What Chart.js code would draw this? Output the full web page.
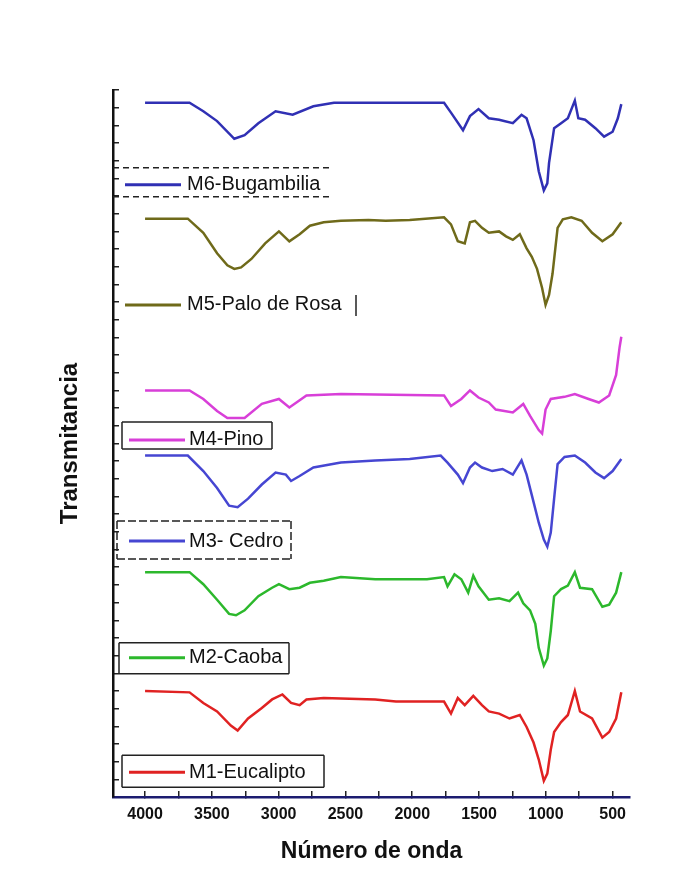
<!DOCTYPE html>
<html lang="es">
<head>
<meta charset="utf-8">
<title>Espectros FTIR - Transmitancia</title>
<script src="https://cdn.jsdelivr.net/npm/chart.js@4.4.1/dist/chart.umd.min.js"></script>
<style>
  html, body { margin: 0; padding: 0; background: #fff; }
  #wrap { width: 689px; height: 869px; }
</style>
</head>
<body>
<div id="wrap"><canvas id="ftirChart" width="689" height="869"></canvas></div>
<script>
// --- Datos (numero de onda en cm-1, transmitancia apilada) ---
const sampleNames = ["M6-Bugambilia", "M5-Palo de Rosa", "M4-Pino", "M3- Cedro", "M2-Caoba", "M1-Eucalipto"];
const lineColors = ["#3030b4", "#6f6a1a", "#d83fd8", "#4646d2", "#2cb82c", "#e02222"];

const wnM6 = [4000, 3667, 3564, 3461, 3332, 3255, 3152, 3023, 2895, 2740, 2586, 1762, 1710, 1620, 1568, 1504, 1427, 1350, 1247, 1182, 1144, 1092, 1053, 1015, 989, 976, 938, 886, 835, 783, 757, 706, 629, 564, 500, 461, 435];
const tM6 = [98.2, 98.2, 97.0, 95.6, 93.1, 93.6, 95.3, 97.0, 96.5, 97.7, 98.2, 98.2, 96.8, 94.3, 96.3, 97.3, 96.0, 95.8, 95.3, 96.5, 96.0, 92.9, 88.5, 85.8, 86.8, 89.7, 94.6, 95.3, 96.0, 98.5, 96.0, 95.8, 94.6, 93.4, 94.1, 96.0, 98.0];

const wnM5 = [4000, 3680, 3564, 3461, 3384, 3332, 3281, 3204, 3101, 2998, 2920, 2843, 2766, 2663, 2534, 2328, 2199, 2019, 1762, 1710, 1659, 1607, 1568, 1530, 1478, 1427, 1350, 1298, 1247, 1195, 1144, 1105, 1066, 1028, 1002, 976, 950, 912, 873, 809, 732, 654, 577, 500, 435];
const tM5 = [81.8, 81.8, 79.8, 76.9, 75.2, 74.7, 74.9, 76.1, 78.3, 80.0, 78.6, 79.6, 80.8, 81.3, 81.5, 81.6, 81.5, 81.6, 82.0, 81.0, 78.6, 78.3, 81.3, 81.5, 80.5, 79.8, 80.0, 79.3, 78.8, 79.6, 77.6, 76.4, 74.7, 72.0, 69.6, 71.0, 74.0, 80.5, 81.7, 82.0, 81.5, 79.8, 78.6, 79.6, 81.3];

const wnM4 = [4000, 3667, 3564, 3461, 3384, 3255, 3126, 2998, 2920, 2792, 2534, 1762, 1710, 1633, 1568, 1504, 1427, 1375, 1247, 1169, 1118, 1053, 1028, 1002, 963, 860, 783, 680, 603, 526, 474, 448, 435];
const tM4 = [57.5, 57.5, 56.3, 54.6, 53.6, 53.6, 55.6, 56.3, 55.1, 56.8, 57.0, 56.8, 55.3, 56.3, 57.5, 56.5, 55.8, 54.8, 54.4, 55.6, 53.9, 51.9, 51.4, 54.8, 56.3, 56.6, 57.0, 56.3, 55.8, 56.8, 59.7, 63.6, 65.1];

const wnM3 = [4000, 3680, 3564, 3461, 3371, 3307, 3229, 3126, 3023, 2946, 2907, 2843, 2740, 2534, 2277, 2019, 1787, 1736, 1659, 1620, 1568, 1530, 1478, 1401, 1324, 1247, 1182, 1144, 1105, 1053, 1015, 989, 963, 938, 912, 860, 783, 706, 629, 564, 500, 435];
const tM3 = [48.3, 48.3, 46.1, 43.7, 41.2, 41.0, 42.2, 44.2, 45.9, 45.6, 44.7, 45.4, 46.6, 47.3, 47.6, 47.8, 48.3, 47.3, 45.6, 44.4, 46.6, 47.3, 46.6, 46.1, 46.4, 45.6, 47.6, 45.6, 42.7, 38.8, 36.4, 35.4, 37.4, 42.2, 47.1, 48.1, 48.3, 47.3, 45.9, 45.1, 46.1, 47.8];

const wnM2 = [4000, 3667, 3564, 3461, 3371, 3319, 3255, 3152, 3049, 2998, 2920, 2843, 2766, 2663, 2534, 2277, 1890, 1762, 1736, 1684, 1633, 1581, 1543, 1504, 1427, 1350, 1272, 1208, 1169, 1118, 1079, 1053, 1015, 989, 963, 938, 886, 835, 783, 744, 654, 577, 526, 474, 435];
const tM2 = [31.8, 31.8, 30.1, 27.9, 25.9, 25.7, 26.4, 28.4, 29.6, 30.1, 29.4, 29.6, 30.3, 30.6, 31.1, 30.8, 30.8, 31.1, 29.8, 31.5, 30.8, 28.9, 31.3, 29.8, 27.9, 28.1, 27.7, 28.9, 27.4, 26.4, 24.5, 21.1, 18.6, 19.6, 23.5, 28.4, 29.4, 29.9, 31.8, 29.6, 29.4, 26.9, 27.2, 28.9, 31.8];

const wnM1 = [4000, 3667, 3564, 3461, 3358, 3307, 3229, 3126, 3049, 2972, 2907, 2843, 2792, 2663, 2277, 2122, 1762, 1710, 1659, 1607, 1543, 1478, 1427, 1350, 1272, 1195, 1144, 1092, 1053, 1015, 989, 963, 938, 886, 835, 783, 744, 654, 577, 526, 474, 435];
const tM1 = [15.0, 14.8, 13.3, 12.1, 10.1, 9.4, 11.1, 12.6, 13.8, 14.5, 13.3, 13.0, 13.8, 14.0, 13.8, 13.5, 13.5, 11.8, 14.0, 13.0, 14.3, 13.0, 12.1, 11.8, 11.1, 11.6, 9.9, 7.7, 5.3, 2.3, 3.3, 6.7, 9.2, 10.6, 11.6, 15.0, 12.1, 11.1, 8.4, 9.2, 11.1, 14.8];

const xTickLabels = [4000, 3500, 3000, 2500, 2000, 1500, 1000, 500];

const wnSeries = [wnM6, wnM5, wnM4, wnM3, wnM2, wnM1];
const tSeries = [tM6, tM5, tM4, tM3, tM2, tM1];

// --- Cajas de leyenda junto a cada espectro (posicion en valor del eje y) ---
const legendLayout = [
  { y: 86.6, x0: 0, x1: 217, top: 17, bottom: 12, edges: "tb", dash: [6, 4] },
  { y: 69.6, x0: 0, x1: 243, top: 10, bottom: 11, edges: "r", dash: [] },
  { y: 50.5, x0: 9, x1: 159, top: 18, bottom: 9, edges: "tblr", dash: [] },
  { y: 36.2, x0: 4, x1: 178, top: 20, bottom: 18, edges: "tblr", dash: [8, 3] },
  { y: 19.7, x0: 6, x1: 176, top: 15, bottom: 16, edges: "tblr", dash: [] },
  { y: 3.5, x0: 9, x1: 211, top: 17, bottom: 15, edges: "tblr", dash: [] },
];

const seriesLegends = {
  id: "seriesLegends",
  afterDatasetsDraw(chart) {
    const { ctx, chartArea, scales } = chart;
    const left = chartArea.left;
    ctx.save();
    legendLayout.forEach((item, i) => {
      const y = scales.y.getPixelForValue(item.y);
      const bx0 = left + item.x0, bx1 = left + item.x1;
      const by0 = y - item.top, by1 = y + item.bottom;
      ctx.strokeStyle = "#222";
      ctx.lineWidth = 1.5;
      ctx.setLineDash(item.dash);
      ctx.beginPath();
      if (item.edges.includes("t")) { ctx.moveTo(bx0, by0); ctx.lineTo(bx1, by0); }
      if (item.edges.includes("b")) { ctx.moveTo(bx0, by1); ctx.lineTo(bx1, by1); }
      if (item.edges.includes("l")) { ctx.moveTo(bx0, by0); ctx.lineTo(bx0, by1); }
      if (item.edges.includes("r")) { ctx.moveTo(bx1, by0); ctx.lineTo(bx1, by1); }
      ctx.stroke();
      ctx.setLineDash([]);
      // muestra de linea
      ctx.strokeStyle = lineColors[i];
      ctx.lineWidth = 3;
      ctx.beginPath();
      ctx.moveTo(left + 12 + (i > 1 ? 4 : 0), y);
      ctx.lineTo(left + 68 + (i > 1 ? 4 : 0), y);
      ctx.stroke();
      ctx.fillStyle = "#111";
      ctx.font = "20px 'Liberation Sans', Arial, sans-serif";
      ctx.textBaseline = "middle";
      ctx.fillText(sampleNames[i], left + 74 + (i > 1 ? 2 : 0), y);
    });
    ctx.restore();
  },
};

const ctx = document.getElementById("ftirChart").getContext("2d");
new Chart(ctx, {
  type: "line",
  data: {
    datasets: sampleNames.map((name, i) => ({
      label: name,
      data: wnSeries[i].map((wn, k) => ({ x: wn, y: tSeries[i][k] })),
      borderColor: lineColors[i],
      borderWidth: 2.5,
      pointRadius: 0,
      tension: 0,
      fill: false,
    })),
  },
  options: {
    responsive: false,
    animation: false,
    layout: { padding: { left: 52, top: 90, right: 59, bottom: 0 } },
    plugins: {
      legend: { display: false },
      tooltip: { enabled: false },
    },
    scales: {
      x: {
        type: "linear",
        reverse: true,
        min: 370,
        max: 4240,
        afterFit(scale) { scale.height = 72; },
        border: { color: "#1c1c70", width: 2.5 },
        grid: { drawOnChartArea: false, tickLength: -6, color: "#222", lineWidth: 1.5 },
        ticks: {
          stepSize: 250,
          includeBounds: false,
          autoSkip: false,
          maxRotation: 0,
          padding: 14,
          color: "#111",
          font: { family: "'Liberation Sans', Arial, sans-serif", size: 16, weight: "bold" },
          callback: (v) => (xTickLabels.includes(v) ? String(v) : ""),
        },
        title: {
          display: true,
          text: "Número de onda",
          color: "#111",
          font: { family: "'Liberation Sans', Arial, sans-serif", size: 23, weight: "bold" },
          padding: { top: 0, bottom: 4 },
        },
      },
      y: {
        min: 0,
        max: 100,
        afterFit(scale) { scale.width = 61; },
        border: { color: "#111", width: 2.5 },
        grid: { drawOnChartArea: false, tickLength: -6, color: "#222", lineWidth: 1.5 },
        ticks: { stepSize: 2.5, display: false },
        title: {
          display: true,
          text: "Transmitancia",
          color: "#111",
          font: { family: "'Liberation Sans', Arial, sans-serif", size: 24, weight: "bold" },
          padding: { top: 4, bottom: 4 },
        },
      },
    },
  },
  plugins: [seriesLegends],
});
</script>
</body>
</html>
